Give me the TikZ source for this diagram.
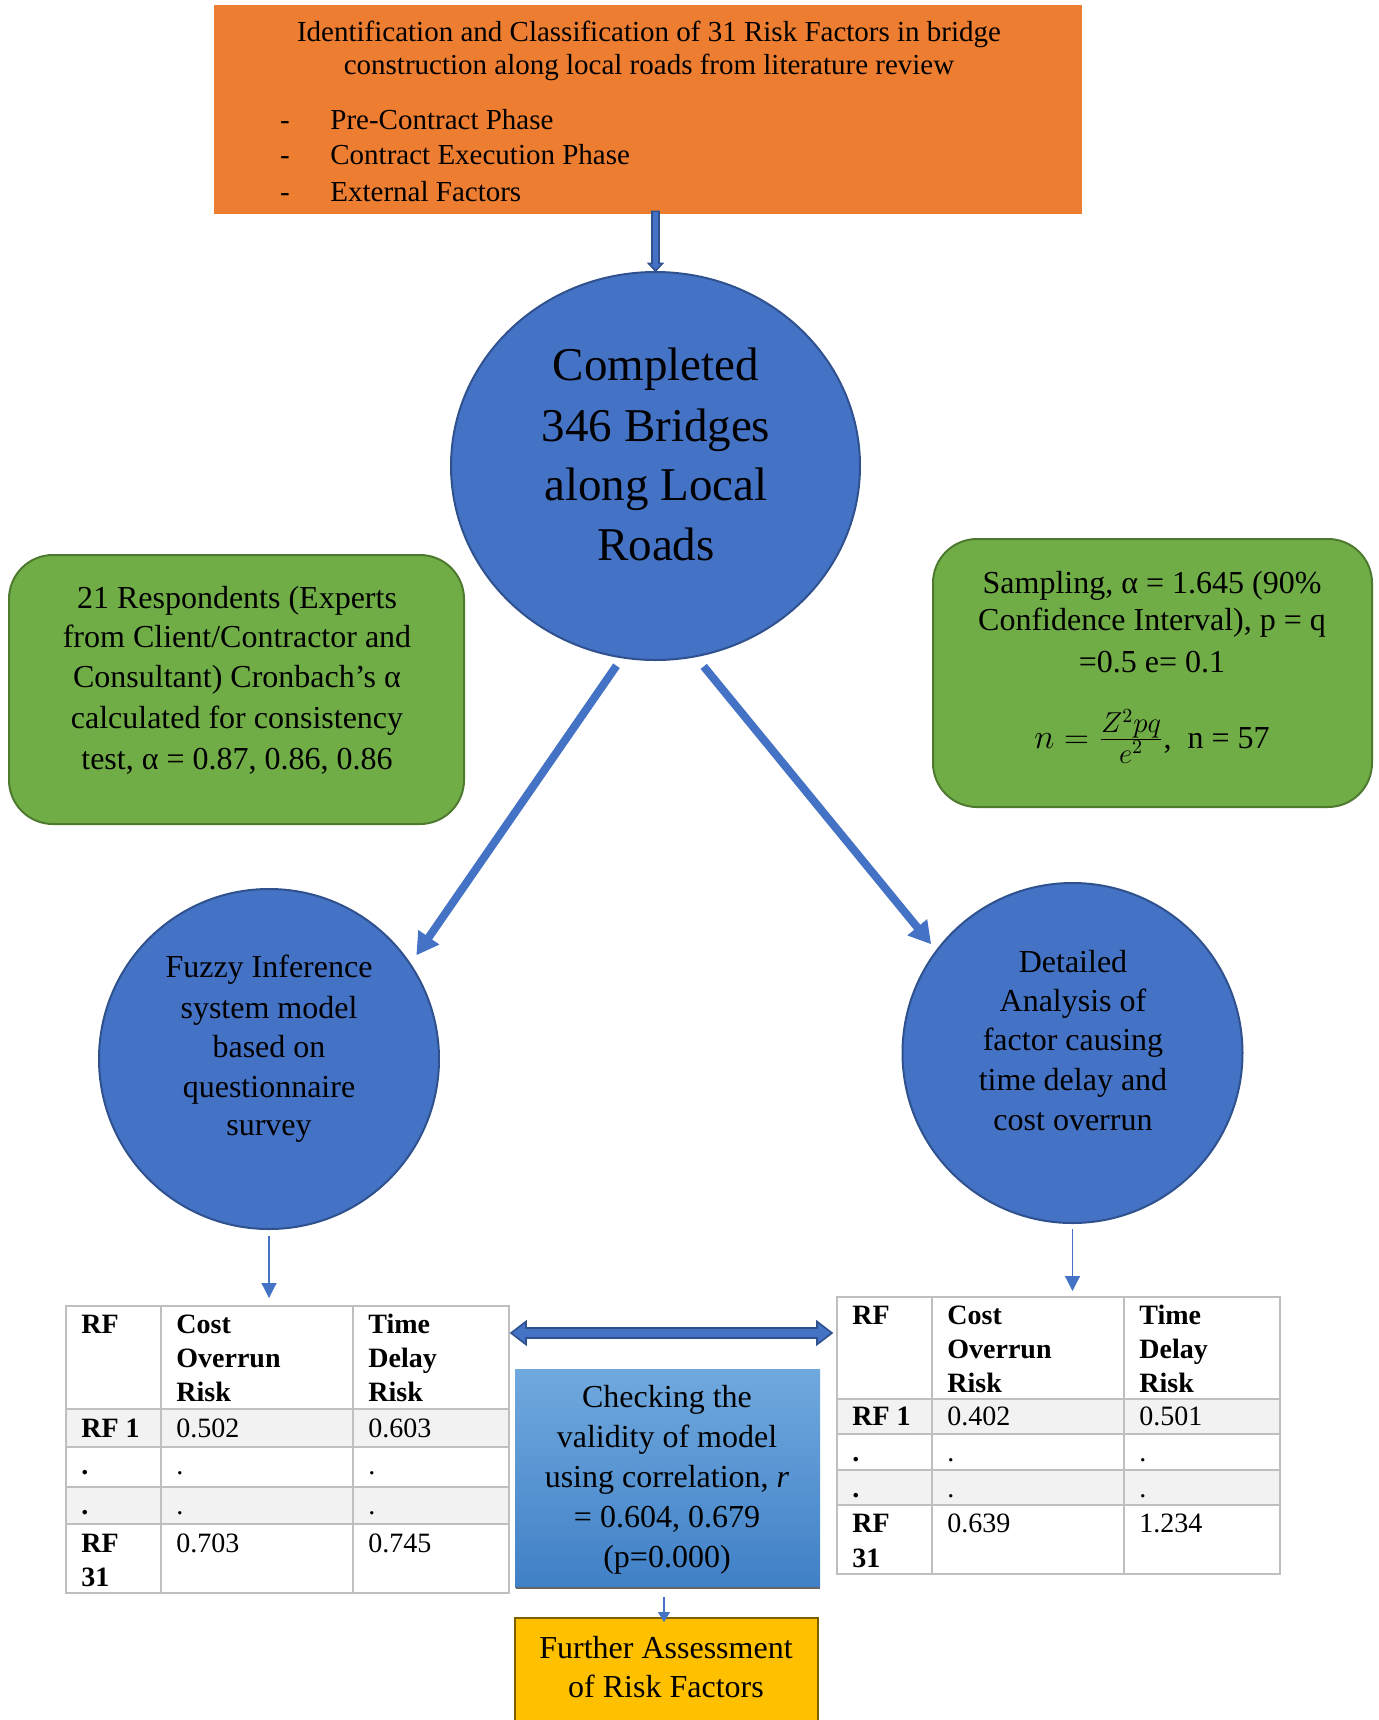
\documentclass[tikz,border=0pt]{standalone}
\usepackage{fontspec}
\setmainfont{Liberation Serif}
\usetikzlibrary{arrows.meta,calc,shapes.geometric}
\definecolor{orangeC}{HTML}{ED7D31}
\definecolor{blueC}{HTML}{4472C4}
\definecolor{blueD}{HTML}{2F528F}
\definecolor{greenC}{HTML}{70AD47}
\definecolor{greenD}{HTML}{4E7A30}
\definecolor{gridC}{HTML}{BFBFBF}
\definecolor{shadeC}{HTML}{F2F2F2}
\definecolor{yellowC}{HTML}{FFC000}
\definecolor{yellowD}{HTML}{7F6000}
\definecolor{gradTop}{HTML}{70A9DE}
\definecolor{gradBot}{HTML}{4080C6}
\newcommand{\fracpart}[1]{\mbox{\fontsize{14.4}{15}\selectfont$#1$}}
\begin{document}
\begin{tikzpicture}[x=0.5pt,y=-0.5pt,
  lbl/.style={anchor=base,inner sep=0pt,font=\fontsize{16}{20}\selectfont},
  toptxt/.style={anchor=base,inner sep=0pt,font=\fontsize{14.5}{17}\selectfont},
  toptxtL/.style={toptxt,anchor=base west},
  bigtxt/.style={anchor=base,inner sep=0pt,font=\fontsize{23.5}{30}\selectfont},
  tab/.style={anchor=base west,inner sep=0pt,font=\fontsize{14}{17}\selectfont},
  tabB/.style={anchor=base west,inner sep=0pt,font=\fontsize{14}{17}\selectfont\bfseries},
  bigarrow/.style={blueC,line width=4pt,-{Triangle[length=11pt,width=12pt]}},
  thinarrow/.style={blueC,line width=0.6pt,-{Triangle[length=7.5pt,width=7.5pt]}},
  gbox/.style={rectangle,draw=greenD,fill=greenC,line width=1pt,rounded corners=22pt,inner sep=0pt},
  disc/.style={circle,draw=blueD,fill=blueC,line width=1pt,inner sep=0pt,minimum size=170pt},
  blockarrow/.style={fill=blueC,draw=blueD,line width=0.8pt,line join=miter},
  tabgrid/.style={gridC,line width=1pt},
]
\useasboundingbox (0,0) rectangle (1378,1720);

% ---------- boxes ----------
\node[rectangle,fill=orangeC,inner sep=0pt,minimum width=434pt,minimum height=104.5pt] (top) at (648,109.5) {};
\node[ellipse,draw=blueD,fill=blueC,line width=1pt,inner sep=0pt,minimum width=204.5pt,minimum height=194pt] (bc) at (655.5,466) {};
\node[gbox,minimum width=227.5pt,minimum height=134.5pt] (lg) at (236.5,689.5) {};
\node[gbox,minimum width=219.5pt,minimum height=134pt] (rg) at (1152.5,673) {};
\node[disc] (lc) at (269,1059) {};
\node[disc] (rc) at (1072.5,1053) {};

% ---------- left table ----------
\fill[shadeC] (66,1409) rectangle (509,1447);
\fill[shadeC] (66,1487) rectangle (509,1524);
\draw[tabgrid] (66,1409) -- (509,1409) (66,1447) -- (509,1447) (66,1487) -- (509,1487) (66,1524) -- (509,1524)
  (161,1306) -- (161,1593) (353,1306) -- (353,1593);
\node[rectangle,draw=gridC,line width=1pt,inner sep=0pt,minimum width=221.5pt,minimum height=143.5pt] (lt) at (287.5,1449.5) {};

% ---------- right table ----------
\fill[shadeC] (837,1399) rectangle (1280,1434);
\fill[shadeC] (837,1470) rectangle (1280,1505);
\draw[tabgrid] (837,1399) -- (1280,1399) (837,1434) -- (1280,1434) (837,1470) -- (1280,1470) (837,1505) -- (1280,1505)
  (932,1297) -- (932,1574) (1124,1297) -- (1124,1574);
\node[rectangle,draw=gridC,line width=1pt,inner sep=0pt,minimum width=221.5pt,minimum height=138.5pt] (rt) at (1058.5,1435.5) {};

% ---------- middle boxes ----------
\node[rectangle,inner sep=0pt,minimum width=152.5pt,minimum height=109pt,top color=gradTop,bottom color=gradBot] (bb) at (667.5,1478) {};
\draw[black!60,line width=1pt] ($(bb.south west)+(1,1)$) -- ($(bb.south east)+(0,1)$);
\node[rectangle,draw=yellowD,fill=yellowC,line width=1pt,inner sep=0pt,minimum width=151.5pt,minimum height=56pt] (yb) at (666.5,1674) {};

% ---------- connectors ----------
\coordinate (ta) at ($(bc.north |- top.south)+(0,-3)$);
\draw[blockarrow] ($(ta)+(-3.5,0)$) -- ($(ta)+(-3.5,52)$) -- ($(ta)+(-7,52)$) -- (bc.north)
  -- ($(ta)+(7,52)$) -- ($(ta)+(3.5,52)$) -- ($(ta)+(3.5,0)$) -- cycle;
\draw[bigarrow,shorten <=4.5pt,shorten >=4.9pt] (bc.260.7) -- (lc.34.4);
\draw[bigarrow,shorten <=6pt,shorten >=3.75pt] (bc.282.8) -- (rc.143);
\draw[thinarrow] ($(lc.south)+(0,6)$) -- ($(lc.south |- lt.north)+(0,-7)$);
\draw[thinarrow] ($(rc.south)+(0,5)$) -- ($(rc.south |- rt.north)+(0,-5)$);
\coordinate (bq) at ($(bb.south)+(-3.5,10)$);
\draw[blueC,line width=0.6pt,-{Triangle[length=5pt,width=6pt]}] (bq) -- ($(bq |- yb.north)+(0,5)$);
\coordinate (dl) at (511,1333);
\coordinate (dr) at (832,1333);
\draw[blockarrow] (dl) -- ($(dl)+(15,-11.5)$) -- ($(dl)+(15,-5)$) -- ($(dr)+(-15,-5)$) -- ($(dr)+(-15,-11.5)$)
  -- (dr) -- ($(dr)+(-15,11.5)$) -- ($(dr)+(-15,5)$) -- ($(dl)+(15,5)$) -- ($(dl)+(15,11.5)$) -- cycle;

% ---------- texts: top box ----------
\node[toptxt] (tt1) at (649,41) {Identification and Classification of 31 Risk Factors in bridge};
\node[toptxt] (tt2) at (649,74) {construction along local roads from literature review};
\node[toptxt] (td1) at (285,129) {-};
\node[toptxtL] (tb1) at (330,129) {Pre-Contract Phase};
\node[toptxt] (td2) at (285,164) {-};
\node[toptxtL] (tb2) at (330,164) {Contract Execution Phase};
\node[toptxt] (td3) at (285,201) {-};
\node[toptxtL] (tb3) at (330,201) {External Factors};

% ---------- big circle ----------
\node[bigtxt] (bt1) at (656,380) {Completed};
\node[bigtxt] (bt2) at (656,441) {346 Bridges};
\node[bigtxt] (bt3) at (656,500) {along Local};
\node[bigtxt] (bt4) at (656,560) {Roads};

% ---------- left green ----------
\node[lbl] (lg1) at (237,608) {21 Respondents (Experts};
\node[lbl] (lg2) at (237,647) {from Client/Contractor and};
\node[lbl] (lg3) at (237,687) {Consultant) Cronbach’s α};
\node[lbl] (lg4) at (237,728) {calculated for consistency};
\node[lbl] (lg5) at (237,769) {test, α = 0.87, 0.86, 0.86};

% ---------- right green ----------
\node[lbl] (rg1) at (1152,593) {Sampling, α = 1.645 (90\%};
\node[lbl] (rg2) at (1152,630) {Confidence Interval), p = q};
\node[lbl] (rg3) at (1152,672) {=0.5 e= 0.1};
\node[lbl] (rg4) at (1152,748) {$n=\frac{\fracpart{Z^{2}pq}}{\fracpart{e^{2}}}$, \ n = 57};

% ---------- circles ----------
\node[lbl] (lc1) at (269,977) {Fuzzy Inference};
\node[lbl] (lc2) at (269,1018) {system model};
\node[lbl] (lc3) at (269,1057) {based on};
\node[lbl] (lc4) at (269,1097) {questionnaire};
\node[lbl] (lc5) at (269,1135) {survey};
\node[lbl] (rc1) at (1073,972) {Detailed};
\node[lbl] (rc2) at (1073,1011) {Analysis of};
\node[lbl] (rc3) at (1073,1050) {factor causing};
\node[lbl] (rc4) at (1073,1090) {time delay and};
\node[lbl] (rc5) at (1073,1130) {cost overrun};

% ---------- left table text ----------
\node[tabB] (l11) at (81,1333) {RF};
\node[tabB] (l12) at (176,1333) {Cost};
\node[tabB] (l13) at (176,1367) {Overrun};
\node[tabB] (l14) at (176,1401) {Risk};
\node[tabB] (l15) at (368,1333) {Time};
\node[tabB] (l16) at (368,1367) {Delay};
\node[tabB] (l17) at (368,1401) {Risk};
\node[tabB] (l21) at (81,1437) {RF 1};
\node[tab] (l22) at (176,1437) {0.502};
\node[tab] (l23) at (368,1437) {0.603};
\node[tabB] (l31) at (81,1474) {.};
\node[tab] (l32) at (176,1474) {.};
\node[tab] (l33) at (368,1474) {.};
\node[tabB] (l41) at (81,1514) {.};
\node[tab] (l42) at (176,1514) {.};
\node[tab] (l43) at (368,1514) {.};
\node[tabB] (l51) at (81,1552) {RF};
\node[tabB] (l52) at (81,1586) {31};
\node[tab] (l53) at (176,1552) {0.703};
\node[tab] (l54) at (368,1552) {0.745};

% ---------- right table text ----------
\node[tabB] (r11) at (852,1324) {RF};
\node[tabB] (r12) at (947,1324) {Cost};
\node[tabB] (r13) at (947,1358) {Overrun};
\node[tabB] (r14) at (947,1392) {Risk};
\node[tabB] (r15) at (1139,1324) {Time};
\node[tabB] (r16) at (1139,1358) {Delay};
\node[tabB] (r17) at (1139,1392) {Risk};
\node[tabB] (r21) at (852,1425) {RF 1};
\node[tab] (r22) at (947,1425) {0.402};
\node[tab] (r23) at (1139,1425) {0.501};
\node[tabB] (r31) at (852,1461) {.};
\node[tab] (r32) at (947,1461) {.};
\node[tab] (r33) at (1139,1461) {.};
\node[tabB] (r41) at (852,1497) {.};
\node[tab] (r42) at (947,1497) {.};
\node[tab] (r43) at (1139,1497) {.};
\node[tabB] (r51) at (852,1532) {RF};
\node[tabB] (r52) at (852,1567) {31};
\node[tab] (r53) at (947,1532) {0.639};
\node[tab] (r54) at (1139,1532) {1.234};

% ---------- middle texts ----------
\node[lbl] (b1) at (667,1407) {Checking the};
\node[lbl] (b2) at (667,1447) {validity of model};
\node[lbl] (b3) at (667,1487) {using correlation, \textit{r}};
\node[lbl] (b4) at (667,1527) {= 0.604, 0.679};
\node[lbl] (b5) at (667,1567) {(p=0.000)};
\node[lbl] (y1) at (666,1658) {Further Assessment};
\node[lbl] (y2) at (666,1697) {of Risk Factors};
\end{tikzpicture}
\end{document}
